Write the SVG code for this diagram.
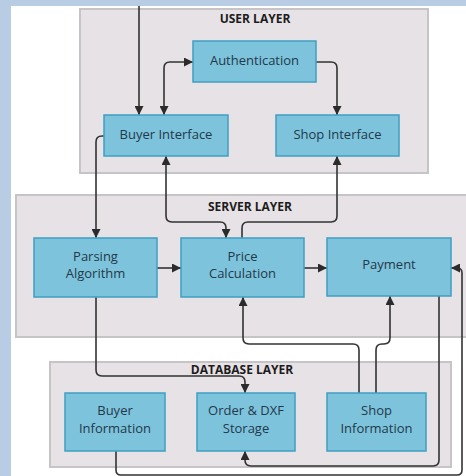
<svg xmlns="http://www.w3.org/2000/svg" width="466" height="476" viewBox="0 0 466 476">
<style>
.layer{fill:#e7e2e5;stroke:#c6c4c6;stroke-width:2}
.node{fill:#7ec3dc;stroke:#3f9fc2;stroke-width:1.5}
.lt{font-family:"Open Sans","Noto Sans",sans-serif;font-size:12px;font-weight:bold;fill:#1c1c1c;text-anchor:middle}
.nt{font-family:"Open Sans","Noto Sans",sans-serif;font-size:13px;fill:#22394a;text-anchor:middle}
.c{fill:none;stroke:#333;stroke-width:1.6;stroke-linejoin:round}
</style>
<defs>
<marker id="ah" viewBox="0 0 10 10" refX="10" refY="5" markerWidth="9" markerHeight="9" markerUnits="userSpaceOnUse" orient="auto-start-reverse">
<path d="M0,0 L10,5 L0,10 z" fill="#2b2b2b"/>
</marker>
</defs>
<rect x="0" y="0" width="466" height="476" fill="#b8cce4"/>
<rect x="11" y="6" width="455" height="470" fill="#ffffff"/>

<g id="user-layer"><rect class="layer" x="80" y="9" width="348" height="164"/><text class="lt" x="255" y="23">USER LAYER</text></g>
<g id="server-layer"><rect class="layer" x="16" y="195" width="460" height="142"/><text class="lt" x="250" y="211">SERVER LAYER</text></g>
<g id="database-layer"><rect class="layer" x="50" y="362" width="401" height="105"/><text class="lt" x="242" y="374">DATABASE LAYER</text></g>

<g id="connectors">
<path class="c" d="M139,6 V115" marker-end="url(#ah)"/>
<path class="c" d="M164,115 V68 Q164,62 170,62 H193" marker-start="url(#ah)" marker-end="url(#ah)"/>
<path class="c" d="M316,62 H331 Q337,62 337,68 V115" marker-end="url(#ah)"/>
<path class="c" d="M104,136 H102 Q96,136 96,142 V238" marker-end="url(#ah)"/>
<path class="c" d="M166,156 V216 Q166,222 172,222 H220 Q226,222 226,228 V238" marker-start="url(#ah)" marker-end="url(#ah)"/>
<path class="c" d="M242,238 V228 Q242,222 248,222 H331 Q337,222 337,216 V156" marker-end="url(#ah)"/>
<path class="c" d="M157,268 H181" marker-end="url(#ah)"/>
<path class="c" d="M304,268 H327" marker-end="url(#ah)"/>
<path class="c" d="M96,297 V370 Q96,376 102,376 H239 Q245,376 245,382 V393" marker-end="url(#ah)"/>
<path class="c" d="M359,393 V350 Q359,344 353,344 H249 Q243,344 243,338 V297" marker-end="url(#ah)"/>
<path class="c" d="M376,393 V350 Q376,344 382,344 H384 Q390,344 390,338 V296" marker-end="url(#ah)"/>
<path class="c" d="M439,296 V460 Q439,466 433,466 H251 Q245,466 245,460 V451" marker-end="url(#ah)"/>
<path class="c" d="M116,451 V470 Q116,475 121,475 H457 Q462,475 462,470 V273 Q462,268 457,268 H451" marker-end="url(#ah)"/>
</g>

<g id="authentication"><rect class="node" x="193" y="41" width="123" height="41"/><text class="nt" x="254.5" y="65">Authentication</text></g>
<g id="buyer-interface"><rect class="node" x="104" y="115" width="124" height="41"/><text class="nt" x="166" y="139">Buyer Interface</text></g>
<g id="shop-interface"><rect class="node" x="276" y="115" width="123" height="41"/><text class="nt" x="337.5" y="139">Shop Interface</text></g>
<g id="parsing-algorithm"><rect class="node" x="34" y="238" width="123" height="59"/><text class="nt" x="95.5" y="261">Parsing</text><text class="nt" x="95.5" y="278">Algorithm</text></g>
<g id="price-calculation"><rect class="node" x="181" y="238" width="123" height="59"/><text class="nt" x="242.5" y="261">Price</text><text class="nt" x="242.5" y="278">Calculation</text></g>
<g id="payment"><rect class="node" x="327" y="238" width="124" height="58"/><text class="nt" x="389" y="269">Payment</text></g>
<g id="buyer-information"><rect class="node" x="65" y="393" width="100" height="58"/><text class="nt" x="115" y="415">Buyer</text><text class="nt" x="115" y="433">Information</text></g>
<g id="order-dxf-storage"><rect class="node" x="197" y="393" width="98" height="58"/><text class="nt" x="246" y="415">Order &amp; DXF</text><text class="nt" x="246" y="433">Storage</text></g>
<g id="shop-information"><rect class="node" x="327" y="393" width="99" height="58"/><text class="nt" x="376.5" y="415">Shop</text><text class="nt" x="376.5" y="433">Information</text></g>
</svg>
